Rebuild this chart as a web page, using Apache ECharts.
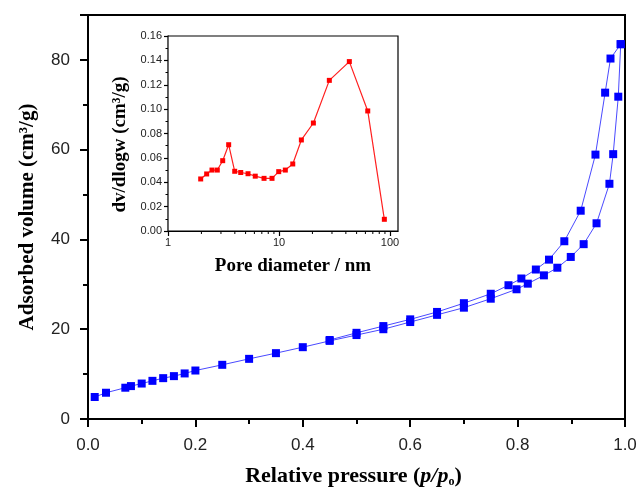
<!DOCTYPE html>
<html>
<head>
<meta charset="utf-8">
<script src="https://cdn.jsdelivr.net/npm/echarts@6/dist/echarts.min.js"></script>
<style>
  html, body { margin: 0; padding: 0; background: #fff; }
  #main { width: 638px; height: 489px; }
</style>
</head>
<body>
<div id="main"></div>
<script>
// 吸附支 (adsorption branch)
var adsP = [0.0125, 0.0335, 0.0695, 0.080, 0.100, 0.120, 0.140, 0.160, 0.180, 0.200,
            0.250, 0.300, 0.350, 0.400, 0.450, 0.500, 0.550, 0.600, 0.650, 0.700,
            0.750, 0.798, 0.819, 0.849, 0.874, 0.899, 0.923, 0.947, 0.971, 0.978,
            0.9875, 0.992];
var adsV = [4.9, 5.85, 6.97, 7.33, 7.9, 8.5, 9.1, 9.55, 10.15, 10.8,
            12.07, 13.4, 14.67, 16.0, 17.4, 18.7, 20.0, 21.6, 23.2, 24.8,
            26.8, 28.9, 30.15, 32.0, 33.7, 36.1, 38.95, 43.6, 52.4, 59.0,
            71.8, 83.5];
// 脱附支 (desorption branch)
var desP = [0.992, 0.973, 0.963, 0.945, 0.9175, 0.887, 0.8585, 0.834, 0.807, 0.783,
            0.750, 0.700, 0.650, 0.600, 0.550, 0.500, 0.450];
var desV = [83.5, 80.3, 72.7, 58.9, 46.4, 39.6, 35.5, 33.3, 31.3, 29.8,
            27.9, 25.8, 23.85, 22.2, 20.7, 19.2, 17.6];
// 孔径分布 (inset)
var poreD = [1.97, 2.23, 2.49, 2.78, 3.11, 3.52, 3.99, 4.52, 5.26, 6.11,
             7.33, 8.65, 9.94, 11.4, 13.3, 15.9, 20.4, 28.4, 43.0, 63.0, 88.9];
var poreDv = [0.0427, 0.0468, 0.050, 0.050, 0.0577, 0.0708, 0.049, 0.048, 0.047, 0.045,
              0.0432, 0.0432, 0.0487, 0.050, 0.055, 0.0747, 0.0886, 0.1236, 0.139, 0.0985, 0.0096];
var logMinor = [2, 3, 4, 5, 6, 7, 8, 9, 20, 30, 40, 50, 60, 70, 80, 90];

function zip(a, b) {
  return a.map(function (v, i) { return [v, b[i]]; });
}

var chart = echarts.init(document.getElementById('main'));

var sans = 'Liberation Sans';
var serif = 'Liberation Serif';

var option = {
  animation: false,
  backgroundColor: '#fff',
  grid: [
    { left: 88, right: 13, top: 15, bottom: 70, show: true, borderColor: '#000', borderWidth: 2, z: 0,
      containLabel: false, outerBoundsMode: 'none' },
    { left: 168, top: 36, width: 230, height: 195, show: true, borderColor: '#000', borderWidth: 1.2,
      backgroundColor: '#fff', z: 5, containLabel: false, outerBoundsMode: 'none' }
  ],
  xAxis: [
    {
      gridIndex: 0, type: 'value', min: 0, max: 1, interval: 0.2,
      axisLine: { lineStyle: { color: '#000', width: 2 } },
      axisTick: { length: 8, lineStyle: { color: '#000', width: 2 } },
      minorTick: { show: true, splitNumber: 2, length: 5, lineStyle: { color: '#000', width: 2 } },
      axisLabel: { margin: 18, color: '#222', fontFamily: sans, fontSize: 17,
        formatter: function (v) { return v.toFixed(1); } },
      splitLine: { show: false },
      name: '{b|Relative pressure (}{i|p/p}{s|o}{b|)}',
      nameLocation: 'middle', nameGap: 45,
      nameTextStyle: {
        padding: [0, 6, 0, 0],
        rich: {
          b: { fontFamily: serif, fontWeight: 'bold', fontSize: 22, color: '#000' },
          i: { fontFamily: serif, fontWeight: 'bold', fontStyle: 'italic', fontSize: 22, color: '#000' },
          s: { fontFamily: serif, fontWeight: 'bold', fontSize: 12, color: '#000', padding: [12, 0, 0, 0] }
        }
      }
    },
    {
      gridIndex: 1, type: 'log', logBase: 10, min: 1, max: 118,
      axisLine: { lineStyle: { color: '#000', width: 1.2 } },
      axisTick: { length: 5, lineStyle: { color: '#000', width: 1.2 } },
      axisLabel: { margin: 6, color: '#222', fontFamily: sans, fontSize: 11, showMaxLabel: false },
      splitLine: { show: false },
      name: 'Pore diameter / nm',
      nameLocation: 'middle', nameGap: 26,
      nameTextStyle: { fontFamily: serif, fontWeight: 'bold', fontSize: 19, color: '#000',
        padding: [0, 0, 0, 20] }
    }
  ],
  yAxis: [
    {
      gridIndex: 0, type: 'value', min: 0, max: 90, interval: 20,
      axisLine: { lineStyle: { color: '#000', width: 2 } },
      axisTick: { length: 8, lineStyle: { color: '#000', width: 2 } },
      minorTick: { show: true, splitNumber: 2, length: 5, lineStyle: { color: '#000', width: 2 } },
      axisLabel: { margin: 18, color: '#222', fontFamily: sans, fontSize: 17, showMaxLabel: false },
      splitLine: { show: false },
      name: 'Adsorbed volume (cm³/g)',
      nameLocation: 'middle', nameGap: 50,
      nameTextStyle: { fontFamily: serif, fontWeight: 'bold', fontSize: 21, color: '#000' }
    },
    {
      gridIndex: 1, type: 'value', min: 0, max: 0.16, interval: 0.02,
      axisLine: { lineStyle: { color: '#000', width: 1.2 } },
      axisTick: { length: 4, lineStyle: { color: '#000', width: 1.2 } },
      minorTick: { show: true, splitNumber: 2, length: 2.5, lineStyle: { color: '#000', width: 1 } },
      axisLabel: { margin: 6, color: '#222', fontFamily: sans, fontSize: 11,
        formatter: function (v) { return v.toFixed(2); } },
      splitLine: { show: false },
      name: 'dv/dlogw (cm³/g)',
      nameLocation: 'middle', nameGap: 38,
      nameTextStyle: { fontFamily: serif, fontWeight: 'bold', fontSize: 19, color: '#000',
        padding: [0, 22, 0, 0] }
    }
  ],
  series: [
    {
      name: 'adsorption', type: 'line', xAxisIndex: 0, yAxisIndex: 0,
      data: zip(adsP, adsV), symbol: 'rect', symbolSize: 8, z: 2,
      lineStyle: { color: '#4a4aff', width: 1 },
      itemStyle: { color: '#0000ff' }
    },
    {
      name: 'desorption', type: 'line', xAxisIndex: 0, yAxisIndex: 0,
      data: zip(desP, desV), symbol: 'rect', symbolSize: 8, z: 2,
      lineStyle: { color: '#4a4aff', width: 1 },
      itemStyle: { color: '#0000ff' }
    },
    {
      name: 'pore', type: 'line', xAxisIndex: 1, yAxisIndex: 1,
      data: zip(poreD, poreDv), symbol: 'rect', symbolSize: 5, z: 10,
      lineStyle: { color: '#ff2020', width: 1.2 },
      itemStyle: { color: '#ff0000' }
    },
    {
      // 对数轴次刻度
      name: 'logMinor', type: 'custom', xAxisIndex: 1, yAxisIndex: 1, z: 10, clip: false,
      silent: true,
      data: logMinor.map(function (v) { return [v, 0]; }),
      renderItem: function (params, api) {
        var p = api.coord([api.value(0), 0]);
        return {
          type: 'line',
          shape: { x1: p[0], y1: p[1], x2: p[0], y2: p[1] + 3 },
          style: { stroke: '#000', lineWidth: 1 }
        };
      }
    }
  ]
};

chart.setOption(option);
window.onresize = function () { chart.resize(); };
</script>
</body>
</html>
